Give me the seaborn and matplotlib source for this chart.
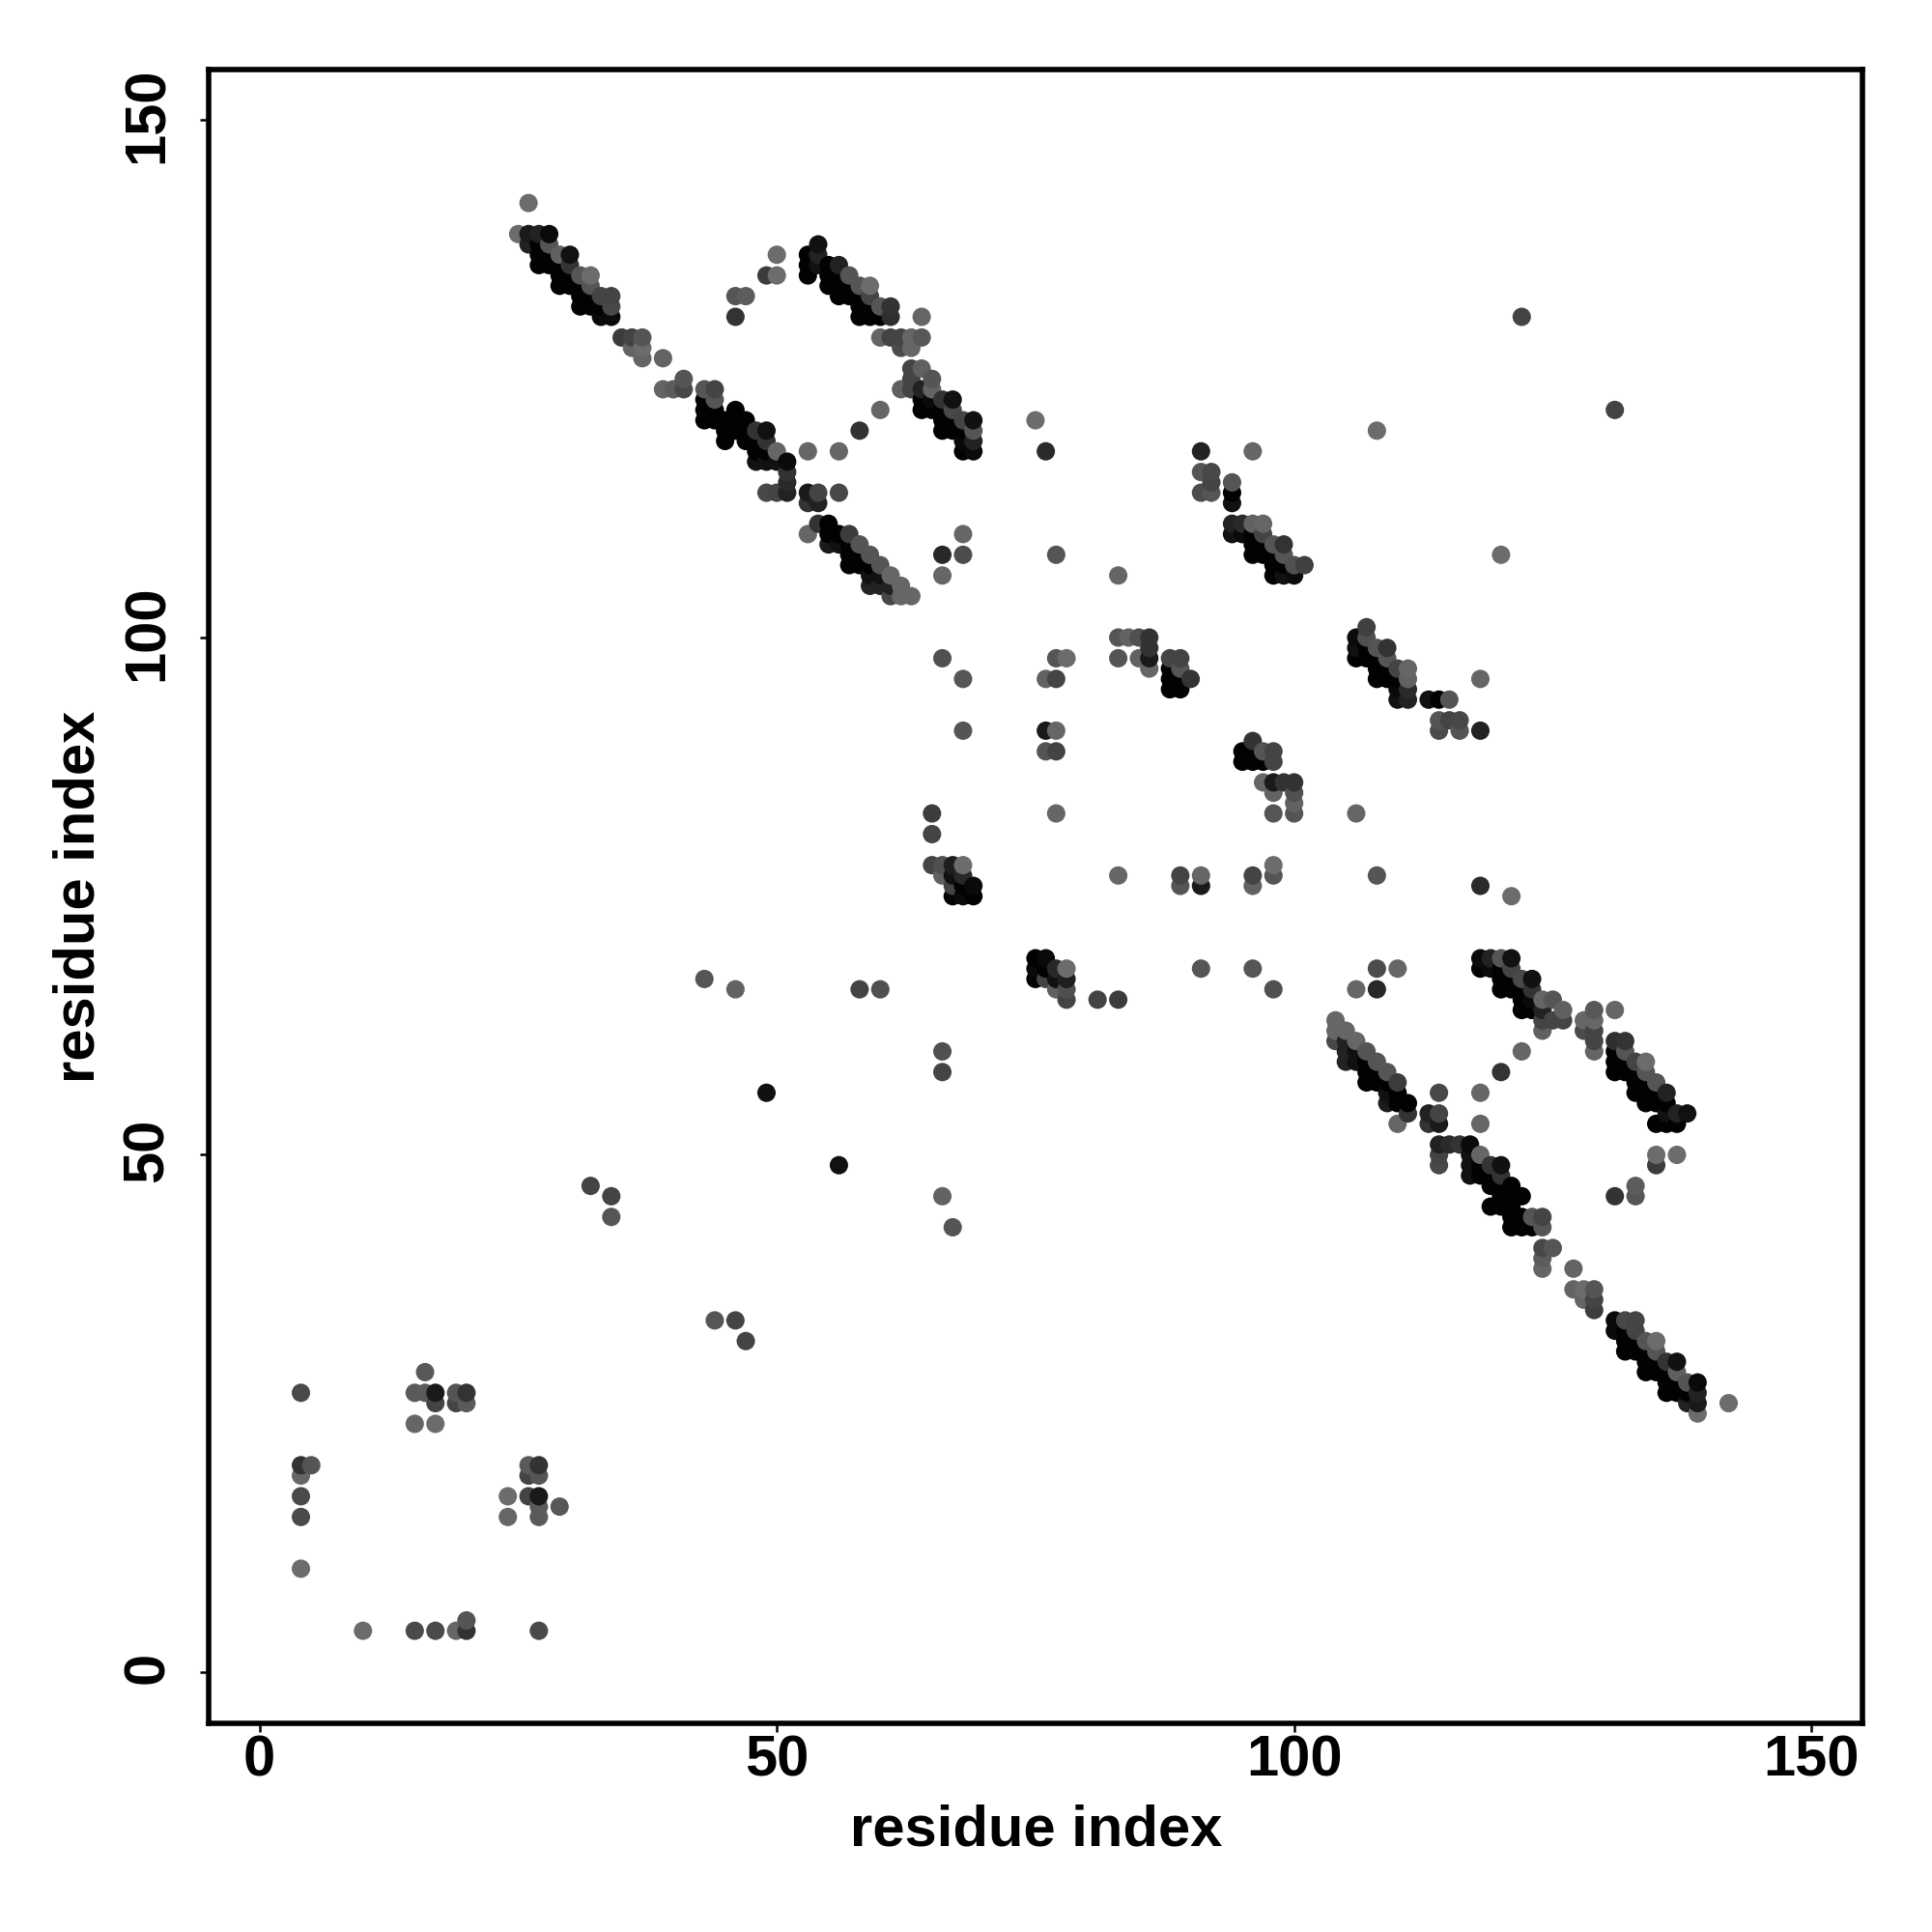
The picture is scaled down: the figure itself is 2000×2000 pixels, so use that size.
import matplotlib
matplotlib.use("Agg")
import matplotlib.pyplot as plt
import matplotlib.transforms as mtrans
import pandas as pd
import seaborn as sns

sns.set_theme(style="white")
plt.rcParams["font.family"] = ["Liberation Sans", "DejaVu Sans"]
plt.rcParams["text.color"] = "black"
plt.rcParams["axes.labelcolor"] = "black"
plt.rcParams["xtick.labelcolor"] = "black"
plt.rcParams["ytick.labelcolor"] = "black"

# Contacts as (i, j, grey), i < j. The map is symmetric, so each one is drawn twice.
strand_a = [(26, 142, 0x6c), (25, 139, 0x6c), (26, 139, 0x1a), (27, 139, 0x22), (28, 139, 0x0a),
            (26, 138, 0x22), (27, 138, 0x02), (28, 138, 0x55), (27, 137, 0x02), (28, 137, 0x02),
            (29, 137, 0x60), (30, 137, 0x11), (27, 136, 0x02), (28, 136, 0x02), (29, 136, 0x02),
            (30, 136, 0x33), (29, 135, 0x02), (30, 135, 0x02), (31, 135, 0x55), (32, 135, 0x6c),
            (29, 134, 0x02), (30, 134, 0x02), (31, 134, 0x02), (32, 134, 0x55), (31, 133, 0x02),
            (32, 133, 0x02), (33, 133, 0x44), (34, 133, 0x44), (31, 132, 0x02), (32, 132, 0x02),
            (33, 132, 0x02), (34, 132, 0x48), (33, 131, 0x0a), (34, 131, 0x0a)]

linker_a = [(35, 129, 0x3c), (36, 129, 0x44), (37, 129, 0x55), (36, 128, 0x64), (37, 128, 0x6c),
            (37, 127, 0x64), (39, 127, 0x64), (41, 125, 0x55), (39, 124, 0x64), (40, 124, 0x5c),
            (41, 124, 0x48)]

strand_b = [(43, 124, 0x55), (44, 124, 0x44), (43, 123, 0x02), (44, 123, 0x55), (43, 122, 0x02),
            (44, 122, 0x02), (45, 121, 0x02), (46, 122, 0x02), (43, 121, 0x02), (44, 121, 0x02),
            (46, 121, 0x02), (47, 121, 0x02), (45, 120, 0x02), (46, 120, 0x02),
            (47, 120, 0x02), (48, 120, 0x33), (49, 120, 0x11), (45, 119, 0x02), (47, 119, 0x02),
            (48, 119, 0x02), (49, 119, 0x33), (48, 118, 0x02), (49, 118, 0x02), (50, 118, 0x66),
            (48, 117, 0x11), (49, 117, 0x11), (50, 117, 0x11), (51, 117, 0x0a), (51, 116, 0x33),
            (51, 115, 0x2a), (49, 114, 0x48), (50, 114, 0x44), (51, 114, 0x22), (53, 114, 0x1a),
            (54, 114, 0x44), (56, 114, 0x48), (53, 113, 0x33), (54, 113, 0x22)]

strand_c = [(54, 111, 0x33), (55, 111, 0x02), (53, 110, 0x66), (55, 110, 0x02), (56, 110, 0x02),
            (57, 110, 0x3c), (55, 109, 0x1a), (56, 109, 0x11), (57, 109, 0x02), (58, 109, 0x55),
            (57, 108, 0x02), (58, 108, 0x02), (59, 108, 0x55), (57, 107, 0x02), (58, 107, 0x02),
            (59, 107, 0x02), (60, 107, 0x55), (59, 106, 0x11), (60, 106, 0x11), (61, 106, 0x66),
            (59, 105, 0x22), (60, 105, 0x22), (61, 105, 0x22), (62, 105, 0x66), (61, 104, 0x48),
            (62, 104, 0x66), (63, 104, 0x66)]

strand_d = [(50, 137, 0x6c), (49, 135, 0x3c), (50, 135, 0x6c), (46, 133, 0x55), (47, 133, 0x5c),
            (46, 131, 0x33), (54, 138, 0x11), (53, 137, 0x02), (54, 137, 0x22), (53, 136, 0x02),
            (54, 136, 0x11), (55, 136, 0x02), (56, 136, 0x22), (53, 135, 0x02), (55, 135, 0x02),
            (56, 135, 0x02), (57, 135, 0x55), (55, 134, 0x02), (56, 134, 0x02), (57, 134, 0x02),
            (58, 134, 0x55), (59, 134, 0x6c), (56, 133, 0x02), (57, 133, 0x02), (58, 133, 0x02),
            (59, 133, 0x44), (58, 132, 0x02), (59, 132, 0x02), (60, 132, 0x55), (61, 132, 0x33),
            (58, 131, 0x02), (59, 131, 0x02), (60, 131, 0x02), (61, 131, 0x2e), (64, 131, 0x66),
            (60, 129, 0x64), (61, 129, 0x44), (62, 129, 0x44), (63, 129, 0x66), (64, 129, 0x58),
            (62, 128, 0x4c), (63, 128, 0x66)]

strand_e = [(62, 124, 0x60), (63, 124, 0x44), (63, 125, 0x44), (63, 126, 0x44), (64, 126, 0x60),
            (65, 125, 0x55), (65, 124, 0x64), (64, 124, 0x22), (64, 123, 0x02), (64, 122, 0x02),
            (65, 122, 0x02), (65, 123, 0x0a), (66, 123, 0x33), (67, 123, 0x11), (66, 122, 0x02),
            (67, 122, 0x48), (66, 121, 0x02), (67, 121, 0x02), (68, 121, 0x44), (69, 121, 0x11),
            (66, 120, 0x02), (67, 120, 0x02), (68, 120, 0x02), (69, 120, 0x55), (68, 119, 0x0a),
            (69, 119, 0x22), (68, 118, 0x02), (69, 118, 0x0a)]

strand_f = [(91, 118, 0x22), (91, 116, 0x55), (92, 116, 0x48), (92, 115, 0x44), (94, 115, 0x55),
            (91, 114, 0x4c), (92, 114, 0x55), (94, 114, 0x02), (94, 113, 0x11), (94, 111, 0x22),
            (95, 111, 0x2a), (96, 111, 0x62), (97, 111, 0x66), (94, 110, 0x11), (95, 110, 0x0a),
            (96, 110, 0x02), (97, 110, 0x44), (96, 109, 0x02), (97, 109, 0x02), (98, 109, 0x55),
            (99, 109, 0x33), (96, 108, 0x02), (97, 108, 0x02), (98, 108, 0x02), (99, 108, 0x55),
            (98, 107, 0x02), (99, 107, 0x02), (100, 107, 0x50), (101, 107, 0x40), (98, 106, 0x02),
            (99, 106, 0x11), (100, 106, 0x0c), (96, 118, 0x66)]

block_g = [(83, 100, 0x55), (84, 100, 0x62), (85, 100, 0x50), (86, 100, 0x33), (86, 99, 0x33),
           (83, 98, 0x55), (85, 98, 0x62), (86, 98, 0x1a), (88, 98, 0x44), (89, 98, 0x44),
           (86, 97, 0x66), (88, 97, 0x02), (89, 97, 0x55), (88, 96, 0x02), (89, 96, 0x02),
           (90, 96, 0x33), (88, 95, 0x02), (89, 95, 0x02)]

block_h = [(65, 78, 0x44), (66, 78, 0x50), (67, 78, 0x1e), (68, 78, 0x6c), (66, 77, 0x60),
           (67, 77, 0x11), (68, 77, 0x28), (67, 76, 0x44), (68, 76, 0x02),
           (69, 76, 0x0a), (67, 75, 0x02), (68, 75, 0x0a), (69, 75, 0x02)]

scattered = [(75, 121, 0x6c), (76, 118, 0x2a), (108, 120, 0x6c), (122, 131, 0x44), (68, 110, 0x66),
             (66, 108, 0x28), (68, 108, 0x4c), (66, 106, 0x66), (83, 106, 0x66), (77, 108, 0x55),
             (53, 118, 0x66), (56, 118, 0x66), (58, 120, 0x33), (60, 122, 0x66), (66, 98, 0x50),
             (77, 98, 0x55), (78, 98, 0x6c), (68, 96, 0x55), (76, 96, 0x62), (77, 96, 0x44),
             (68, 91, 0x55), (76, 91, 0x1a), (77, 91, 0x66), (76, 89, 0x55), (77, 89, 0x44),
             (65, 83, 0x3c), (77, 83, 0x66), (65, 81, 0x44), (43, 67, 0x55), (46, 66, 0x62),
             (58, 66, 0x44), (60, 66, 0x50), (49, 56, 0x11), (32, 47, 0x44), (34, 46, 0x44),
             (34, 44, 0x55)]

cluster_low = [(4, 27, 0x4a), (16, 29, 0x58), (15, 27, 0x5a), (16, 27, 0x5a), (17, 27, 0x1a),
               (19, 27, 0x55), (20, 27, 0x33), (17, 26, 0x44), (19, 26, 0x44), (20, 26, 0x5a),
               (15, 24, 0x66), (17, 24, 0x6c), (4, 20, 0x33), (5, 20, 0x55), (4, 19, 0x66),
               (4, 17, 0x4a), (4, 15, 0x4a), (4, 10, 0x6c)]

tick_values = [0, 50, 100, 150]
axis_label = "residue index"

contacts = strand_a + linker_a + strand_b + strand_c + strand_d + strand_e + strand_f + block_g + block_h + scattered + cluster_low

upper = pd.DataFrame(contacts, columns=["x", "y", "grey"]).drop_duplicates(["x", "y"])
lower = upper.rename(columns={"x": "y", "y": "x"})
df = pd.concat([upper, lower]).sort_values(["x", "y"])
df["tone"] = df["grey"].map(lambda g: f"#{g:02x}{g:02x}{g:02x}")

fig = plt.figure(figsize=(10, 10), dpi=200)
ax = fig.add_axes([216.3 / 2000, 1 - 1783.7 / 2000, 1712 / 2000, 1711.7 / 2000])

sns.scatterplot(data=df, x="x", y="y", hue="tone", palette={t: t for t in df["tone"].unique()},
                s=47, linewidth=0, legend=False, ax=ax)

ax.set_xlim(-4.89, 154.96)
ax.set_ylim(-4.92, 154.9)
ax.set_xticks(tick_values)
ax.set_yticks(tick_values)

for spine in ax.spines.values():
    spine.set_linewidth(2.0)
    spine.set_color("black")

ax.tick_params(axis="both", length=3.2, width=0.9, color="black", bottom=True, left=True)
ax.tick_params(axis="x", labelsize=21.5, pad=1)
ax.tick_params(axis="y", labelsize=21.5, pad=9.5)
for label in ax.get_xticklabels() + ax.get_yticklabels():
    label.set_fontweight("bold")
# rotated labels sit a little low when centred, nudge them up
nudge = mtrans.ScaledTranslation(0, 5 / 200, fig.dpi_scale_trans)
for label in ax.get_yticklabels():
    label.set_rotation(90)
    label.set_va("center")
    label.set_transform(label.get_transform() + nudge)

ax.set_xlabel(axis_label, fontsize=21.5, fontweight="bold", labelpad=6)
ax.set_ylabel(axis_label, fontsize=21.5, fontweight="bold", labelpad=6)

fig.savefig("out.png", dpi=200, facecolor="white")
